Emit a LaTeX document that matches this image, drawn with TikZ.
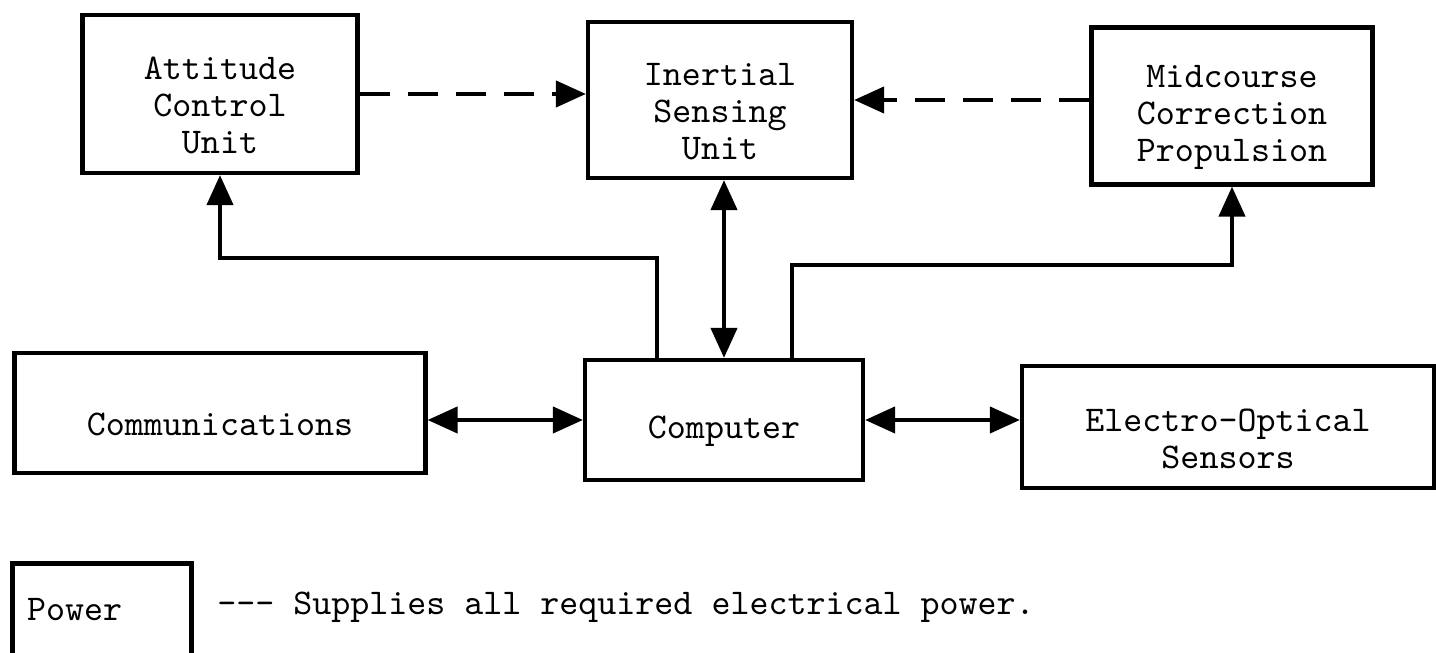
\documentclass[tikz,border=0pt]{standalone}
\usetikzlibrary{arrows.meta,calc}

\begin{document}
\begin{tikzpicture}[x=0.1mm, y=-0.1mm, >={Triangle[length=3mm,width=2.6mm]},
	box/.style={draw, line width=1.2pt, align=center, inner sep=0pt,
		font=\ttfamily\fontsize{10.3}{10.5}\selectfont},
	unitbox/.style={box, text width=24mm, execute at begin node={\rule{0pt}{13pt}}},
	link/.style={line width=1.2pt},
	dashlink/.style={line width=1.2pt, dash pattern=on 3mm off 1.8mm}]
			\useasboundingbox (0,0) rectangle (1436,653);
			\clip (0,0) rectangle (1436,653);
			% top row
			\node[unitbox, minimum width=27.5mm, minimum height=15.8mm] (att) at (220,94) {Attitude\\Control\\Unit};
			\node[unitbox, minimum width=26.4mm, minimum height=15.6mm] (isu) at (720,100) {Inertial\\Sensing\\Unit};
			\node[unitbox, text width=26mm, minimum width=28.1mm, minimum height=15.7mm] (mcc) at (1232,106) {Midcourse\\Correction\\Propulsion};
			% middle row
			\node[unitbox, text width=34mm, minimum width=41.1mm, minimum height=12mm] (com) at (220,413) {Communications};
			\node[unitbox, minimum width=27.8mm, minimum height=12mm] (cmp) at (724,420) {Computer};
			\node[unitbox, text width=34mm, minimum width=41.2mm, minimum height=12.2mm] (eos) at (1228,427) {Electro-Optical\\Sensors};
			% power
			\node[box, minimum width=17.9mm, minimum height=9.3mm, text width=15mm, align=left] (pwr) at (102,610) {Power};
			\node[anchor=west, font=\ttfamily\fontsize{10.3}{10.5}\selectfont] (note) at (205,607)
				{\mbox{-}\mbox{-}\mbox{-} Supplies all required electrical power.};
			% connectors
			\draw[dashlink, ->] (att.east) -- (att.east -| isu.west);
			\draw[dashlink, ->] (mcc.west |- isu.east) -- (isu.east);
			\draw[link, ->] ($(cmp.north)+(-67,0)$) -- ++(0,-100) -| (att.south);
			\draw[link, ->] ($(cmp.north)+(68,0)$) -- ++(0,-93) -| (mcc.south);
			\draw[link, <->] (cmp.north) -- (cmp.north |- isu.south);
			\draw[link, <->] (com.east |- cmp.west) -- (cmp.west);
			\draw[link, <->] (cmp.east) -- (cmp.east -| eos.west);
		\end{tikzpicture}
\end{document}
